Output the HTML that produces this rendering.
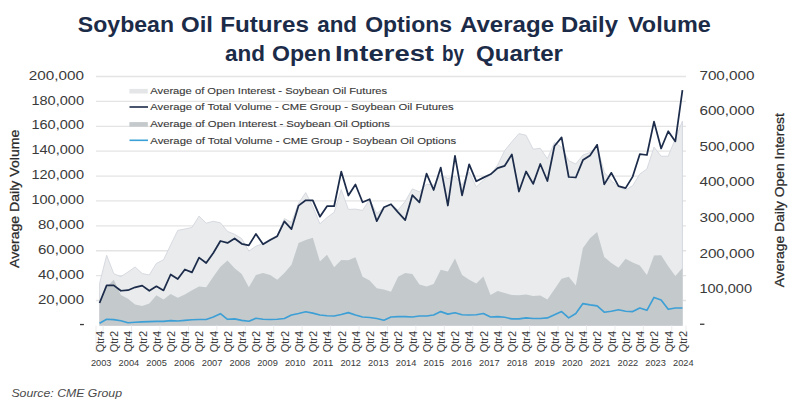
<!DOCTYPE html>
<html><head><meta charset="utf-8"><style>
html,body{margin:0;padding:0;background:#fff;width:800px;height:418px;overflow:hidden}
svg{display:block}
</style></head><body>
<svg width="800" height="418" viewBox="0 0 800 418"><rect width="800" height="418" fill="#ffffff"/><g fill="#1b2b48" font-family="Liberation Sans, sans-serif" font-weight="bold" font-size="22.5"><text x="77.80" y="32" textLength="96.20" lengthAdjust="spacingAndGlyphs">Soybean</text><text x="181.00" y="32" textLength="32.00" lengthAdjust="spacingAndGlyphs">Oil</text><text x="220.20" y="32" textLength="88.80" lengthAdjust="spacingAndGlyphs">Futures</text><text x="317.20" y="32" textLength="39.80" lengthAdjust="spacingAndGlyphs">and</text><text x="365.20" y="32" textLength="86.80" lengthAdjust="spacingAndGlyphs">Options</text><text x="460.00" y="32" textLength="94.00" lengthAdjust="spacingAndGlyphs">Average</text><text x="561.00" y="32" textLength="57.00" lengthAdjust="spacingAndGlyphs">Daily</text><text x="628.00" y="32" textLength="82.80" lengthAdjust="spacingAndGlyphs">Volume</text><text x="225.00" y="61" textLength="40.00" lengthAdjust="spacingAndGlyphs">and</text><text x="272.00" y="61" textLength="59.00" lengthAdjust="spacingAndGlyphs">Open</text><text x="335.00" y="61" textLength="99.00" lengthAdjust="spacingAndGlyphs">Interest</text><text x="442.00" y="61" textLength="22.00" lengthAdjust="spacingAndGlyphs">by</text><text x="476.00" y="61" textLength="87.00" lengthAdjust="spacingAndGlyphs">Quarter</text></g><g stroke="#e4e4e4" stroke-width="1.3"><line x1="96" x2="686" y1="300.51" y2="300.51"/><line x1="96" x2="686" y1="275.62" y2="275.62"/><line x1="96" x2="686" y1="250.72999999999996" y2="250.72999999999996"/><line x1="96" x2="686" y1="225.83999999999997" y2="225.83999999999997"/><line x1="96" x2="686" y1="200.95" y2="200.95"/><line x1="96" x2="686" y1="176.05999999999997" y2="176.05999999999997"/><line x1="96" x2="686" y1="151.16999999999996" y2="151.16999999999996"/><line x1="96" x2="686" y1="126.27999999999997" y2="126.27999999999997"/><line x1="96" x2="686" y1="101.38999999999999" y2="101.38999999999999"/><line x1="96" x2="686" y1="76.49999999999997" y2="76.49999999999997"/></g><path d="M99.55,325.5 L99.55,283.50 106.66,255.30 113.77,273.70 120.88,276.60 127.99,272.00 135.10,267.00 142.20,273.50 149.31,275.00 156.42,263.40 163.53,259.80 170.64,245.00 177.75,230.40 184.86,229.00 191.96,227.50 199.07,216.10 206.18,223.20 213.29,221.30 220.40,222.80 227.51,231.40 234.61,234.30 241.72,238.60 248.83,251.10 255.94,246.20 263.05,243.50 270.16,239.10 277.27,235.30 284.37,218.60 291.48,222.40 298.59,203.30 305.70,192.60 312.81,206.60 319.92,223.80 327.02,217.50 334.13,212.30 341.24,189.60 348.35,209.40 355.46,209.10 362.57,210.40 369.67,199.50 376.78,213.50 383.89,207.70 391.00,204.20 398.11,210.00 405.22,201.40 412.33,188.90 419.43,191.80 426.54,184.10 433.65,185.10 440.76,175.00 447.87,178.50 454.98,176.00 462.08,185.00 469.19,172.00 476.30,187.00 483.41,180.20 490.52,175.00 497.63,165.00 504.73,150.50 511.84,141.80 518.95,133.60 526.06,135.30 533.17,149.20 540.28,148.30 547.39,158.80 554.49,142.50 561.60,147.30 568.71,160.70 575.82,164.00 582.93,155.00 590.04,152.50 597.14,146.40 604.25,172.20 611.36,180.80 618.47,186.50 625.58,190.00 632.69,185.60 639.80,174.10 646.90,169.00 654.01,147.10 661.12,156.20 668.23,156.20 675.34,138.70 682.45,121.10 L682.45,325.5 Z" fill="#e9ebed" stroke="#d3d6dc" stroke-width="0.9"/><path d="M99.55,325.5 L99.55,301.00 106.66,287.00 113.77,279.80 120.88,295.00 127.99,298.80 135.10,304.50 142.20,305.90 149.31,303.60 156.42,295.30 163.53,299.40 170.64,294.00 177.75,297.80 184.86,294.40 191.96,290.20 199.07,286.40 206.18,287.30 213.29,276.80 220.40,266.80 227.51,260.50 234.61,268.20 241.72,273.90 248.83,287.30 255.94,274.90 263.05,273.00 270.16,274.90 277.27,279.70 284.37,273.00 291.48,264.80 298.59,243.00 305.70,240.00 312.81,237.70 319.92,261.60 327.02,254.70 334.13,267.20 341.24,259.90 348.35,260.30 355.46,257.20 362.57,276.80 369.67,280.60 376.78,288.30 383.89,289.40 391.00,291.70 398.11,276.80 405.22,273.00 412.33,273.90 419.43,284.40 426.54,286.40 433.65,284.10 440.76,269.70 447.87,271.40 454.98,258.60 462.08,274.90 469.19,279.70 476.30,283.50 483.41,276.40 490.52,295.00 497.63,291.10 504.73,293.00 511.84,295.00 518.95,295.30 526.06,294.40 533.17,295.90 540.28,295.50 547.39,299.40 554.49,289.20 561.60,278.70 568.71,276.80 575.82,285.40 582.93,248.00 590.04,238.30 597.14,232.10 604.25,257.00 611.36,262.90 618.47,267.80 625.58,258.80 632.69,262.40 639.80,265.50 646.90,275.10 654.01,255.60 661.12,255.20 668.23,266.20 675.34,275.90 682.45,268.00 L682.45,325.5 Z" fill="#c4c9cc"/><polyline points="99.55,323.30 106.66,319.30 113.77,319.60 120.88,320.80 127.99,322.70 135.10,322.30 142.20,321.90 149.31,321.60 156.42,321.40 163.53,321.40 170.64,320.60 177.75,321.00 184.86,320.40 191.96,319.80 199.07,319.50 206.18,319.50 213.29,317.00 220.40,313.70 227.51,319.30 234.61,318.90 241.72,320.40 248.83,321.20 255.94,318.30 263.05,319.30 270.16,319.50 277.27,319.30 284.37,318.50 291.48,315.00 298.59,313.50 305.70,311.80 312.81,313.10 319.92,315.00 327.02,315.80 334.13,316.00 341.24,314.50 348.35,312.60 355.46,315.00 362.57,317.00 369.67,317.50 376.78,318.50 383.89,320.20 391.00,317.00 398.11,316.60 405.22,316.60 412.33,317.00 419.43,316.00 426.54,316.00 433.65,315.00 440.76,311.60 447.87,314.10 454.98,312.80 462.08,314.70 469.19,315.00 476.30,314.70 483.41,313.50 490.52,317.00 497.63,316.60 504.73,317.30 511.84,318.90 518.95,318.90 526.06,317.90 533.17,318.50 540.28,318.50 547.39,317.90 554.49,314.70 561.60,311.60 568.71,317.90 575.82,313.50 582.93,303.60 590.04,304.90 597.14,305.90 604.25,312.20 611.36,311.20 618.47,309.70 625.58,311.20 632.69,311.60 639.80,308.00 646.90,310.30 654.01,297.40 661.12,300.10 668.23,309.30 675.34,308.00 682.45,308.00" fill="none" stroke="#3c9fd5" stroke-width="1.65" stroke-linejoin="round"/><polyline points="99.55,303.00 106.66,285.40 113.77,285.40 120.88,290.75 127.99,290.20 135.10,287.30 142.20,285.60 149.31,290.75 156.42,286.35 163.53,290.40 170.64,274.50 177.75,279.10 184.86,269.50 191.96,272.40 199.07,257.65 206.18,263.00 213.29,253.00 220.40,241.00 227.51,242.90 234.61,238.50 241.72,243.80 248.83,245.40 255.94,233.90 263.05,244.30 270.16,240.00 277.27,236.20 284.37,221.30 291.48,229.10 298.59,205.60 305.70,200.30 312.81,200.40 319.92,216.70 327.02,206.20 334.13,206.20 341.24,171.60 348.35,195.50 355.46,184.50 362.57,202.30 369.67,199.20 376.78,221.20 383.89,207.30 391.00,204.20 398.11,212.40 405.22,220.10 412.33,195.20 419.43,202.30 426.54,173.60 433.65,190.00 440.76,167.60 447.87,205.50 454.98,155.80 462.08,195.30 469.19,164.30 476.30,181.30 483.41,177.60 490.52,174.30 497.63,168.20 504.73,165.80 511.84,154.40 518.95,191.50 526.06,171.50 533.17,183.90 540.28,164.00 547.39,181.00 554.49,146.00 561.60,137.40 568.71,177.00 575.82,177.50 582.93,160.10 590.04,155.50 597.14,144.80 604.25,184.40 611.36,172.80 618.47,186.10 625.58,188.10 632.69,176.60 639.80,154.20 646.90,155.00 654.01,121.60 661.12,148.50 668.23,131.25 675.34,141.40 682.45,90.10" fill="none" stroke="#1c2c4a" stroke-width="1.75" stroke-linejoin="round"/><g fill="#3a3a3a" font-family="Liberation Sans, sans-serif" font-size="13.5" text-anchor="end"><text x="84" y="79.6" textLength="55.2" lengthAdjust="spacingAndGlyphs">200,000</text><text x="84" y="104.5" textLength="52.6" lengthAdjust="spacingAndGlyphs">180,000</text><text x="84" y="129.4" textLength="52.6" lengthAdjust="spacingAndGlyphs">160,000</text><text x="84" y="154.3" textLength="52.6" lengthAdjust="spacingAndGlyphs">140,000</text><text x="84" y="179.2" textLength="52.6" lengthAdjust="spacingAndGlyphs">120,000</text><text x="84" y="204.0" textLength="52.6" lengthAdjust="spacingAndGlyphs">100,000</text><text x="84" y="228.9" textLength="46.0" lengthAdjust="spacingAndGlyphs">80,000</text><text x="84" y="253.8" textLength="46.0" lengthAdjust="spacingAndGlyphs">60,000</text><text x="84" y="278.7" textLength="46.0" lengthAdjust="spacingAndGlyphs">40,000</text><text x="84" y="303.6" textLength="46.0" lengthAdjust="spacingAndGlyphs">20,000</text><rect x="80" y="323.9" width="3.9" height="1.3"/></g><g fill="#3a3a3a" font-family="Liberation Sans, sans-serif" font-size="13.5"><text x="699.4" y="79.6" textLength="55.2" lengthAdjust="spacingAndGlyphs">700,000</text><text x="699.4" y="115.2" textLength="55.2" lengthAdjust="spacingAndGlyphs">600,000</text><text x="699.4" y="150.7" textLength="55.2" lengthAdjust="spacingAndGlyphs">500,000</text><text x="699.4" y="186.3" textLength="55.2" lengthAdjust="spacingAndGlyphs">400,000</text><text x="699.4" y="221.9" textLength="55.2" lengthAdjust="spacingAndGlyphs">300,000</text><text x="699.4" y="257.5" textLength="55.2" lengthAdjust="spacingAndGlyphs">200,000</text><text x="699.4" y="293.0" textLength="52.6" lengthAdjust="spacingAndGlyphs">100,000</text><rect x="700" y="323.6" width="4.4" height="1.3"/></g><text transform="translate(19.0,268.0) rotate(-90)" fill="#2a2a2a" stroke="#2a2a2a" stroke-width="0.25" font-family="Liberation Sans, sans-serif" font-size="13.5" textLength="138.3" lengthAdjust="spacingAndGlyphs">Average Daily Volume</text><text transform="translate(783.6,287.2) rotate(-90)" fill="#2a2a2a" stroke="#2a2a2a" stroke-width="0.25" font-family="Liberation Sans, sans-serif" font-size="13.5" textLength="174.1" lengthAdjust="spacingAndGlyphs">Average Daily Open Interest</text><g fill="#383838" stroke="#383838" stroke-width="0.12" font-family="Liberation Sans, sans-serif" font-size="9.9"><rect x="129.4" y="88.9" width="18.4" height="4.6" fill="#e5e6e8" stroke="none"/><text x="150.3" y="94.0" textLength="236.9" lengthAdjust="spacingAndGlyphs">Average of Open Interest - Soybean Oil Futures</text><line x1="129.5" x2="148" y1="107.0" y2="107.0" stroke="#1b2b48" stroke-width="1.6"/><text x="150.3" y="110.4" textLength="303.3" lengthAdjust="spacingAndGlyphs">Average of Total Volume - CME Group - Soybean Oil Futures</text><rect x="129.4" y="122.1" width="18.4" height="4.6" fill="#c4c9cc" stroke="none"/><text x="150.3" y="127.2" textLength="239.6" lengthAdjust="spacingAndGlyphs">Average of Open Interest - Soybean Oil Options</text><line x1="129.5" x2="148" y1="140.3" y2="140.3" stroke="#3aa0d6" stroke-width="1.6"/><text x="150.3" y="143.7" textLength="306.0" lengthAdjust="spacingAndGlyphs">Average of Total Volume - CME Group - Soybean Oil Options</text></g><g stroke="#ececec" stroke-width="1"><line x1="103.11" x2="103.11" y1="325.5" y2="352"/><line x1="131.54" x2="131.54" y1="325.5" y2="352"/><line x1="159.98" x2="159.98" y1="325.5" y2="352"/><line x1="188.41" x2="188.41" y1="325.5" y2="352"/><line x1="216.84" x2="216.84" y1="325.5" y2="352"/><line x1="245.28" x2="245.28" y1="325.5" y2="352"/><line x1="273.71" x2="273.71" y1="325.5" y2="352"/><line x1="302.14" x2="302.14" y1="325.5" y2="352"/><line x1="330.58" x2="330.58" y1="325.5" y2="352"/><line x1="359.01" x2="359.01" y1="325.5" y2="352"/><line x1="387.45" x2="387.45" y1="325.5" y2="352"/><line x1="415.88" x2="415.88" y1="325.5" y2="352"/><line x1="444.31" x2="444.31" y1="325.5" y2="352"/><line x1="472.75" x2="472.75" y1="325.5" y2="352"/><line x1="501.18" x2="501.18" y1="325.5" y2="352"/><line x1="529.61" x2="529.61" y1="325.5" y2="352"/><line x1="558.05" x2="558.05" y1="325.5" y2="352"/><line x1="586.48" x2="586.48" y1="325.5" y2="352"/><line x1="614.92" x2="614.92" y1="325.5" y2="352"/><line x1="643.35" x2="643.35" y1="325.5" y2="352"/><line x1="671.78" x2="671.78" y1="325.5" y2="352"/><line x1="96" x2="96" y1="325.5" y2="352"/><line x1="686" x2="686" y1="325.5" y2="352"/></g><g fill="#3a3a3a" font-family="Liberation Sans, sans-serif" font-size="10"><text transform="translate(103.85,352.3) rotate(-90)" textLength="21.4" lengthAdjust="spacingAndGlyphs">Qtr4</text><text transform="translate(118.07,352.3) rotate(-90)" textLength="21.4" lengthAdjust="spacingAndGlyphs">Qtr2</text><text transform="translate(132.29,352.3) rotate(-90)" textLength="21.4" lengthAdjust="spacingAndGlyphs">Qtr4</text><text transform="translate(146.50,352.3) rotate(-90)" textLength="21.4" lengthAdjust="spacingAndGlyphs">Qtr2</text><text transform="translate(160.72,352.3) rotate(-90)" textLength="21.4" lengthAdjust="spacingAndGlyphs">Qtr4</text><text transform="translate(174.94,352.3) rotate(-90)" textLength="21.4" lengthAdjust="spacingAndGlyphs">Qtr2</text><text transform="translate(189.16,352.3) rotate(-90)" textLength="21.4" lengthAdjust="spacingAndGlyphs">Qtr4</text><text transform="translate(203.37,352.3) rotate(-90)" textLength="21.4" lengthAdjust="spacingAndGlyphs">Qtr2</text><text transform="translate(217.59,352.3) rotate(-90)" textLength="21.4" lengthAdjust="spacingAndGlyphs">Qtr4</text><text transform="translate(231.81,352.3) rotate(-90)" textLength="21.4" lengthAdjust="spacingAndGlyphs">Qtr2</text><text transform="translate(246.02,352.3) rotate(-90)" textLength="21.4" lengthAdjust="spacingAndGlyphs">Qtr4</text><text transform="translate(260.24,352.3) rotate(-90)" textLength="21.4" lengthAdjust="spacingAndGlyphs">Qtr2</text><text transform="translate(274.46,352.3) rotate(-90)" textLength="21.4" lengthAdjust="spacingAndGlyphs">Qtr4</text><text transform="translate(288.67,352.3) rotate(-90)" textLength="21.4" lengthAdjust="spacingAndGlyphs">Qtr2</text><text transform="translate(302.89,352.3) rotate(-90)" textLength="21.4" lengthAdjust="spacingAndGlyphs">Qtr4</text><text transform="translate(317.11,352.3) rotate(-90)" textLength="21.4" lengthAdjust="spacingAndGlyphs">Qtr2</text><text transform="translate(331.32,352.3) rotate(-90)" textLength="21.4" lengthAdjust="spacingAndGlyphs">Qtr4</text><text transform="translate(345.54,352.3) rotate(-90)" textLength="21.4" lengthAdjust="spacingAndGlyphs">Qtr2</text><text transform="translate(359.76,352.3) rotate(-90)" textLength="21.4" lengthAdjust="spacingAndGlyphs">Qtr4</text><text transform="translate(373.97,352.3) rotate(-90)" textLength="21.4" lengthAdjust="spacingAndGlyphs">Qtr2</text><text transform="translate(388.19,352.3) rotate(-90)" textLength="21.4" lengthAdjust="spacingAndGlyphs">Qtr4</text><text transform="translate(402.41,352.3) rotate(-90)" textLength="21.4" lengthAdjust="spacingAndGlyphs">Qtr2</text><text transform="translate(416.63,352.3) rotate(-90)" textLength="21.4" lengthAdjust="spacingAndGlyphs">Qtr4</text><text transform="translate(430.84,352.3) rotate(-90)" textLength="21.4" lengthAdjust="spacingAndGlyphs">Qtr2</text><text transform="translate(445.06,352.3) rotate(-90)" textLength="21.4" lengthAdjust="spacingAndGlyphs">Qtr4</text><text transform="translate(459.28,352.3) rotate(-90)" textLength="21.4" lengthAdjust="spacingAndGlyphs">Qtr2</text><text transform="translate(473.49,352.3) rotate(-90)" textLength="21.4" lengthAdjust="spacingAndGlyphs">Qtr4</text><text transform="translate(487.71,352.3) rotate(-90)" textLength="21.4" lengthAdjust="spacingAndGlyphs">Qtr2</text><text transform="translate(501.93,352.3) rotate(-90)" textLength="21.4" lengthAdjust="spacingAndGlyphs">Qtr4</text><text transform="translate(516.14,352.3) rotate(-90)" textLength="21.4" lengthAdjust="spacingAndGlyphs">Qtr2</text><text transform="translate(530.36,352.3) rotate(-90)" textLength="21.4" lengthAdjust="spacingAndGlyphs">Qtr4</text><text transform="translate(544.58,352.3) rotate(-90)" textLength="21.4" lengthAdjust="spacingAndGlyphs">Qtr2</text><text transform="translate(558.79,352.3) rotate(-90)" textLength="21.4" lengthAdjust="spacingAndGlyphs">Qtr4</text><text transform="translate(573.01,352.3) rotate(-90)" textLength="21.4" lengthAdjust="spacingAndGlyphs">Qtr2</text><text transform="translate(587.23,352.3) rotate(-90)" textLength="21.4" lengthAdjust="spacingAndGlyphs">Qtr4</text><text transform="translate(601.44,352.3) rotate(-90)" textLength="21.4" lengthAdjust="spacingAndGlyphs">Qtr2</text><text transform="translate(615.66,352.3) rotate(-90)" textLength="21.4" lengthAdjust="spacingAndGlyphs">Qtr4</text><text transform="translate(629.88,352.3) rotate(-90)" textLength="21.4" lengthAdjust="spacingAndGlyphs">Qtr2</text><text transform="translate(644.10,352.3) rotate(-90)" textLength="21.4" lengthAdjust="spacingAndGlyphs">Qtr4</text><text transform="translate(658.31,352.3) rotate(-90)" textLength="21.4" lengthAdjust="spacingAndGlyphs">Qtr2</text><text transform="translate(672.53,352.3) rotate(-90)" textLength="21.4" lengthAdjust="spacingAndGlyphs">Qtr4</text><text transform="translate(686.75,352.3) rotate(-90)" textLength="21.4" lengthAdjust="spacingAndGlyphs">Qtr2</text></g><g fill="#3a3a3a" font-family="Liberation Sans, sans-serif" font-size="9.6" text-anchor="middle"><text x="101.2" y="366.2" textLength="20.6" lengthAdjust="spacingAndGlyphs">2003</text><text x="128.9" y="366.2" textLength="20.6" lengthAdjust="spacingAndGlyphs">2004</text><text x="156.6" y="366.2" textLength="20.6" lengthAdjust="spacingAndGlyphs">2005</text><text x="184.4" y="366.2" textLength="20.6" lengthAdjust="spacingAndGlyphs">2006</text><text x="212.1" y="366.2" textLength="20.6" lengthAdjust="spacingAndGlyphs">2007</text><text x="239.8" y="366.2" textLength="20.6" lengthAdjust="spacingAndGlyphs">2008</text><text x="267.5" y="366.2" textLength="20.6" lengthAdjust="spacingAndGlyphs">2009</text><text x="295.2" y="366.2" textLength="20.6" lengthAdjust="spacingAndGlyphs">2010</text><text x="323.0" y="366.2" textLength="20.6" lengthAdjust="spacingAndGlyphs">2011</text><text x="350.7" y="366.2" textLength="20.6" lengthAdjust="spacingAndGlyphs">2012</text><text x="378.4" y="366.2" textLength="20.6" lengthAdjust="spacingAndGlyphs">2013</text><text x="406.1" y="366.2" textLength="20.6" lengthAdjust="spacingAndGlyphs">2014</text><text x="433.8" y="366.2" textLength="20.6" lengthAdjust="spacingAndGlyphs">2015</text><text x="461.6" y="366.2" textLength="20.6" lengthAdjust="spacingAndGlyphs">2016</text><text x="489.3" y="366.2" textLength="20.6" lengthAdjust="spacingAndGlyphs">2017</text><text x="517.0" y="366.2" textLength="20.6" lengthAdjust="spacingAndGlyphs">2018</text><text x="544.7" y="366.2" textLength="20.6" lengthAdjust="spacingAndGlyphs">2019</text><text x="572.4" y="366.2" textLength="20.6" lengthAdjust="spacingAndGlyphs">2020</text><text x="600.2" y="366.2" textLength="20.6" lengthAdjust="spacingAndGlyphs">2021</text><text x="627.9" y="366.2" textLength="20.6" lengthAdjust="spacingAndGlyphs">2022</text><text x="655.6" y="366.2" textLength="20.6" lengthAdjust="spacingAndGlyphs">2023</text><text x="683.3" y="366.2" textLength="20.6" lengthAdjust="spacingAndGlyphs">2024</text></g><text x="11.4" y="397.2" fill="#4a4a4a" font-family="Liberation Sans, sans-serif" font-size="11.6" font-style="italic" textLength="110.6" lengthAdjust="spacingAndGlyphs">Source: CME Group</text></svg>
</body></html>
